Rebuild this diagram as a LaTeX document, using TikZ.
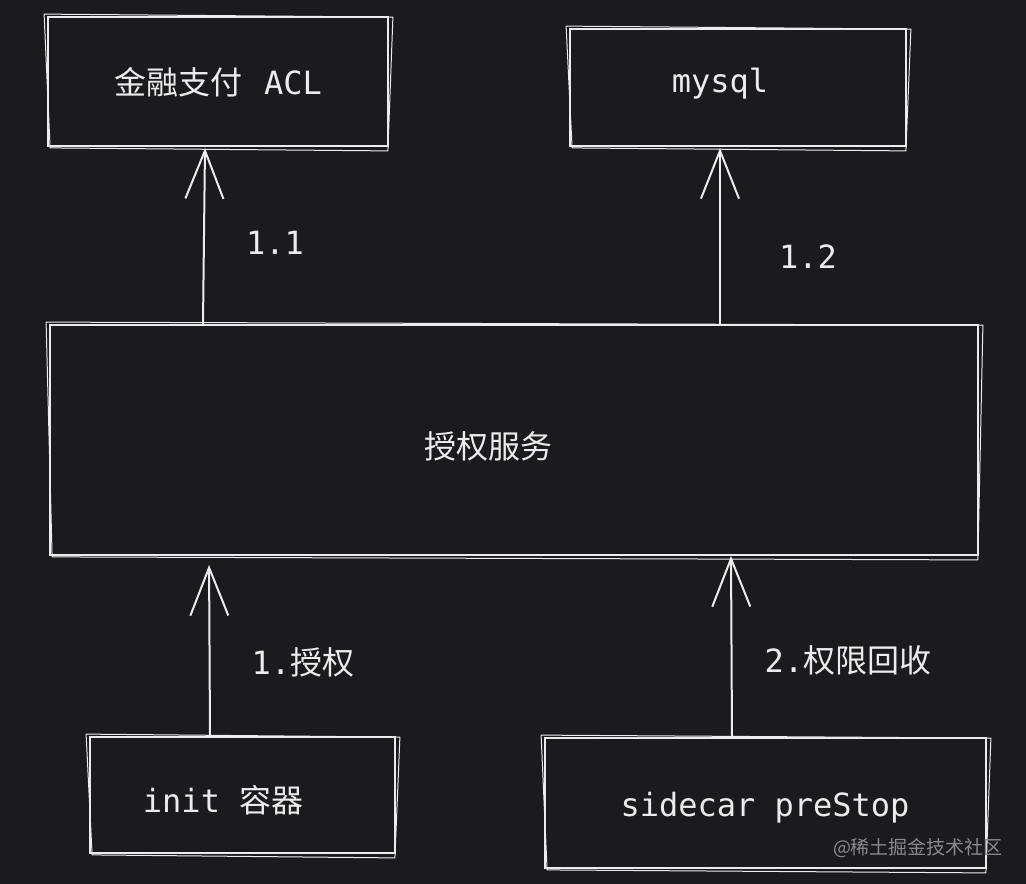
\documentclass[tikz,border=0pt]{standalone}
\usepackage{fontspec}
\setmonofont{DejaVu Sans Mono}
\newfontfamily\cjk{Noto Sans CJK SC}
\usetikzlibrary{arrows.meta}
\definecolor{bg}{HTML}{1B1B1D}
\definecolor{ink}{HTML}{ECECEC}
\definecolor{wm}{HTML}{8A8A8A}
\newcommand{\roughbox}[1]{%
  \draw[sk] ([shift={(-3,-2)}]#1.north west) -- ([shift={(4,1)}]#1.north east)
    -- ([shift={(-1,4)}]#1.south east) -- ([shift={(3,1)}]#1.south west) -- cycle;}
\begin{document}
\begin{tikzpicture}[x=1pt,y=-1pt,
  box/.style={draw=ink, line width=1.8pt, inner sep=0pt},
  sk/.style={draw=ink, line width=1pt, line join=round},
  txt/.style={text=ink, font=\ttfamily\fontsize{32}{38}\selectfont, inner sep=0pt},
  arr/.style={draw=ink, line width=2pt, line cap=round,
    -{Straight Barb[length=48pt,width=38pt,line width=2pt]}},
  wmark/.style={text=wm, font=\cjk\fontsize{19}{22}\selectfont, inner sep=0pt}]
\fill[bg] (0,0) rectangle (1026,884);
\useasboundingbox (0,0) rectangle (1026,884);

% boxes
\node[box, minimum width=340pt, minimum height=129pt] (acl) at (218,81.5) {};
\node[box, minimum width=336pt, minimum height=117pt] (mysql) at (738,87.5) {};
\node[box, minimum width=928pt, minimum height=230pt] (svc) at (514,440) {};
\node[box, minimum width=305pt, minimum height=116pt] (init) at (242.5,795) {};
\node[box, minimum width=441pt, minimum height=130pt] (side) at (765.5,803) {};
\roughbox{acl}\roughbox{mysql}\roughbox{svc}\roughbox{init}\roughbox{side}

% texts
\node[txt] (tacl) at (218,82) {{\cjk 金融支付}\hspace{22pt}ACL};
\node[txt] (tmysql) at (720,84) {mysql};
\node[txt] (tsvc) at (488,446) {\cjk 授权服务};
\node[txt] (tinit) at (223,800) {init\hspace{19pt}{\cjk 容器}};
\node[txt] (tside) at (765,808) {sidecar preStop};

% arrows
\coordinate (x11) at (205,0);
\coordinate (x12) at (720,0);
\coordinate (x1) at (209,0);
\coordinate (x2) at (731,0);
\draw[arr, shorten >=1pt] ([xshift=-2pt]svc.north -| x11) -- (acl.south -| x11);
\draw[arr, shorten >=1pt] (svc.north -| x12) -- (mysql.south -| x12);
\draw[arr, shorten >=9pt] ([shift={(1,-1)}]init.north -| x1) -- (svc.south -| x1);
\draw[arr] ([shift={(1,-1)}]side.north -| x2) -- (svc.south -| x2);

% labels
\node[txt] (l11) at (275,243) {1.1};
\node[txt] (l12) at (808,257) {1.2};
\node[txt] (l1) at (303,662) {1.{\cjk 授权}};
\node[txt] (l2) at (848,660) {2.{\cjk 权限回收}};

\node[wmark] (wm) at (918,848) {@稀土掘金技术社区};
\end{tikzpicture}
\end{document}
